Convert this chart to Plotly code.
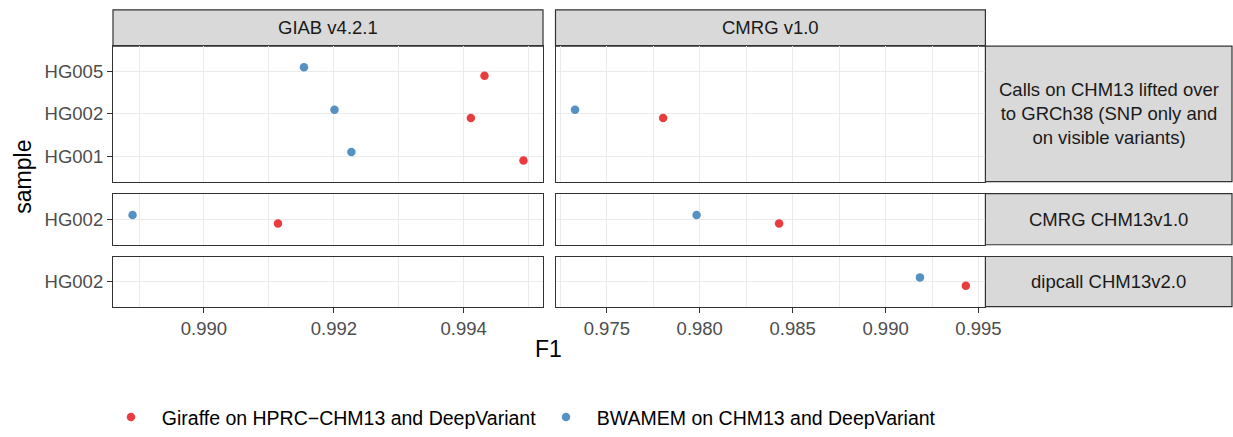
import plotly.graph_objects as go

W, H = 1233, 437

# ---------------- data ----------------
col_labels = ["GIAB v4.2.1", "CMRG v1.0"]
row_labels = ["Calls on CHM13 lifted over<br>to GRCh38 (SNP only and<br>on visible variants)",
              "CMRG CHM13v1.0", "dipcall CHM13v2.0"]
row_samples = [["HG001", "HG002", "HG005"], ["HG002"], ["HG002"]]
methods = ["Giraffe on HPRC\u2212CHM13 and DeepVariant", "BWAMEM on CHM13 and DeepVariant"]
method_colors = ["#E41A1C", "#377EB8"]

pt_row = [0, 0, 0, 0, 0, 0, 0, 0, 1, 1, 1, 1, 2, 2]
pt_col = [0, 0, 0, 0, 0, 0, 1, 1, 0, 0, 1, 1, 1, 1]
pt_sample = ["HG005", "HG005", "HG002", "HG002", "HG001", "HG001",
             "HG002", "HG002", "HG002", "HG002", "HG002", "HG002", "HG002", "HG002"]
pt_method = [0, 1, 0, 1, 0, 1, 0, 1, 0, 1, 0, 1, 0, 1]
pt_f1 = [0.99432, 0.99154, 0.99411, 0.99201, 0.99492, 0.99227,
         0.97803, 0.97329, 0.99114, 0.98890, 0.98427, 0.97983, 0.99432, 0.99185]

x_tick_step = [0.002, 0.005]

# ---------------- layout geometry (pixels) ----------------
col_px = [(113, 543), (555.5, 985.4)]
row_px = [(47, 185), (197.3, 249.3), (261.3, 312.3)]
strip_top = 10
strip_right = (985.4, 1232)

def px_x(v):
    return v / W

def px_y(v):
    return (H - v) / H

FONT = "Liberation Sans, Arial, sans-serif"
TICK_SIZE = 18.5
LEGEND_SIZE = 19.5
TITLE_SIZE = 23
GRID = "#EBEBEB"
BORDER = "#333333"

fig = go.Figure()

# x ranges per column: data range expanded by 5% (ggplot default)
x_ranges = []
for c in range(2):
    vals = [f for f, cc in zip(pt_f1, pt_col) if cc == c]
    lo, hi = min(vals), max(vals)
    pad = (hi - lo) * 0.05
    x_ranges.append([lo - pad, hi + pad])

dodge = [-0.1, 0.1]
NB = "\u00a0\u00a0"

for r in range(3):
    for c in range(2):
        i = r * 2 + c + 1
        xa = "x" if i == 1 else f"x{i}"
        ya = "y" if i == 1 else f"y{i}"
        for m in range(2):
            xs, ys = [], []
            for pr, pc, ps, pm, pf in zip(pt_row, pt_col, pt_sample, pt_method, pt_f1):
                if pr == r and pc == c and pm == m:
                    xs.append(pf)
                    ys.append(row_samples[r].index(ps) + dodge[m])
            fig.add_trace(go.Scatter(
                x=xs, y=ys, mode="markers", xaxis=xa, yaxis=ya,
                marker=dict(color=method_colors[m], size=8.5, opacity=0.85),
                name=NB + methods[m] + "\u00a0", legendgroup=methods[m],
                showlegend=(i == 1), hoverinfo="x+name"))

        bottom = (r == 2)
        left = (c == 0)
        step = x_tick_step[c]
        xaxis = dict(
            domain=[px_x(col_px[c][0]), px_x(col_px[c][1])],
            anchor=ya, range=x_ranges[c], automargin=False,
            tickmode="linear", tick0=0.99, dtick=step, tickformat=".3f",
            showgrid=True, gridcolor=GRID, gridwidth=1.3,
            minor=dict(dtick=step / 2, tick0=0.99, showgrid=True, gridcolor=GRID, gridwidth=0.7),
            showline=True, mirror=True, linecolor=BORDER, linewidth=1.2,
            zeroline=False,
            showticklabels=bottom, ticks="outside" if bottom else "",
            ticklen=5, tickcolor=BORDER, tickwidth=1.1,
            tickfont=dict(family=FONT, size=TICK_SIZE, color="#4D4D4D"),
        )
        n = len(row_samples[r])
        yaxis = dict(
            domain=[px_y(row_px[r][1]), px_y(row_px[r][0])],
            anchor=xa, range=[-0.6, n - 1 + 0.6], automargin=False,
            tickmode="array", tickvals=list(range(n)), ticktext=row_samples[r],
            showgrid=True, gridcolor=GRID, gridwidth=1.3,
            showline=True, mirror=True, linecolor=BORDER, linewidth=1.2,
            zeroline=False,
            showticklabels=left, ticks="outside" if left else "",
            ticklen=5, tickcolor=BORDER, tickwidth=1.1,
            tickfont=dict(family=FONT, size=TICK_SIZE, color="#4D4D4D"),
        )
        fig.layout["xaxis" if i == 1 else f"xaxis{i}"] = xaxis
        fig.layout["yaxis" if i == 1 else f"yaxis{i}"] = yaxis

shapes = []
annotations = []
# column strips
for c in range(2):
    shapes.append(dict(type="rect", xref="paper", yref="paper",
                       x0=px_x(col_px[c][0]), x1=px_x(col_px[c][1]),
                       y0=px_y(row_px[0][0]), y1=px_y(strip_top),
                       fillcolor="#D9D9D9", line=dict(color=BORDER, width=1.2), layer="below"))
    annotations.append(dict(xref="paper", yref="paper",
                            x=px_x((col_px[c][0] + col_px[c][1]) / 2),
                            y=px_y((row_px[0][0] + strip_top) / 2),
                            text=col_labels[c], showarrow=False,
                            font=dict(family=FONT, size=TICK_SIZE, color="#1A1A1A"),
                            xanchor="center", yanchor="middle"))
# row strips
for r in range(3):
    shapes.append(dict(type="rect", xref="paper", yref="paper",
                       x0=px_x(strip_right[0]), x1=px_x(strip_right[1]),
                       y0=px_y(row_px[r][1]), y1=px_y(row_px[r][0]),
                       fillcolor="#D9D9D9", line=dict(color=BORDER, width=1.2), layer="below"))
    annotations.append(dict(xref="paper", yref="paper",
                            x=px_x((strip_right[0] + strip_right[1]) / 2),
                            y=px_y((row_px[r][0] + row_px[r][1]) / 2),
                            text=row_labels[r], showarrow=False,
                            font=dict(family=FONT, size=TICK_SIZE, color="#1A1A1A"),
                            xanchor="center", yanchor="middle", align="center"))
# axis titles
annotations.append(dict(xref="paper", yref="paper", x=px_x(548), y=px_y(356),
                        text="F1", showarrow=False,
                        font=dict(family=FONT, size=TITLE_SIZE, color="black"),
                        xanchor="center", yanchor="middle"))
annotations.append(dict(xref="paper", yref="paper", x=px_x(23), y=px_y(180),
                        text="sample", showarrow=False, textangle=-90,
                        font=dict(family=FONT, size=TITLE_SIZE, color="black"),
                        xanchor="center", yanchor="middle"))

fig.update_layout(
    width=W, height=H, margin=dict(l=0, r=0, t=0, b=0),
    paper_bgcolor="white", plot_bgcolor="white",
    shapes=shapes, annotations=annotations,
    showlegend=True,
    legend=dict(orientation="h", x=px_x(111), y=px_y(425), xanchor="left", yanchor="middle",
                font=dict(family=FONT, size=LEGEND_SIZE, color="black"),
                bgcolor="rgba(0,0,0,0)"),
)

post = (
    "document.documentElement.style.margin='0';"
    "document.documentElement.style.overflow='hidden';"
    "document.body.style.margin='0';"
    "document.body.style.overflow='hidden';"
    "var d=document.querySelector('.plotly-graph-div');"
    "d.style.position='absolute';d.style.top='0px';d.style.left='0px';"
)
fig.write_html("out.html", config={"displayModeBar": False}, post_script=post)
